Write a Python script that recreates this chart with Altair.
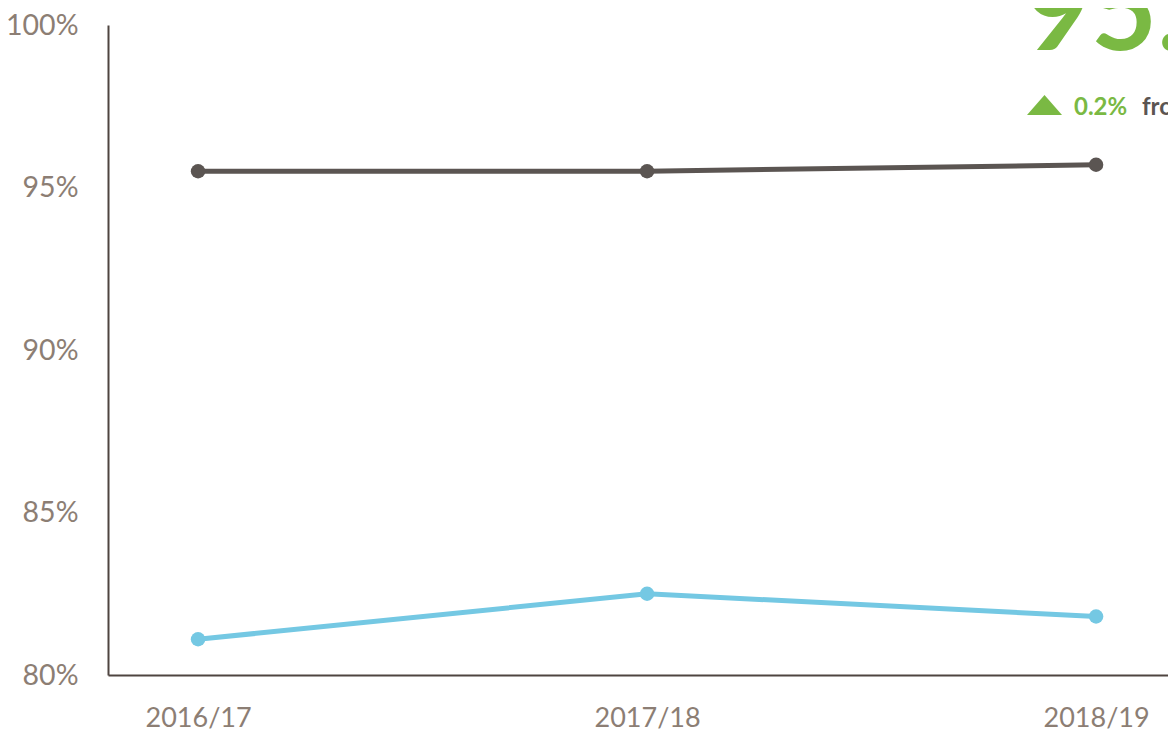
import altair as alt
import pandas as pd

years = ["2016/17", "2017/18", "2018/19"]
series_a = [95.5, 95.5, 95.7]
series_b = [81.1, 82.5, 81.8]
series_names = ["A", "B"]
series_colors = ["#5b5552", "#74c8e3"]
y_ticks = [80, 85, 90, 95, 100]

rows = []
for name, vals in zip(series_names, [series_a, series_b]):
    for yr, v in zip(years, vals):
        rows.append({"series": name, "year": yr, "value": v})
df = pd.DataFrame(rows)

FONT = "Lato"
LABEL_COLOR = "#8c7e74"

x_enc = alt.X("year:O", sort=years,
              scale=alt.Scale(type="point", padding=0.1804, align=0.556),
              axis=alt.Axis(title=None, labelAngle=0, ticks=False, grid=False,
                            domainColor="#4f4540", domainWidth=2,
                            labelFont=FONT, labelFontSize=27, labelColor=LABEL_COLOR,
                            labelPadding=30))
y_enc = alt.Y("value:Q",
              scale=alt.Scale(domain=[80, 100], nice=False, zero=False),
              axis=alt.Axis(title=None, values=y_ticks, ticks=False, grid=False,
                            domainColor="#4f4540", domainWidth=2,
                            labelExpr="datum.value + '%'",
                            labelFont=FONT, labelFontSize=28.5, labelColor=LABEL_COLOR,
                            labelPadding=30))
color_enc = alt.Color("series:N", scale=alt.Scale(domain=series_names, range=series_colors),
                      legend=None)

base = alt.Chart(df)
lines = base.mark_line(strokeWidth=5).encode(x=x_enc, y=y_enc, color=color_enc,
                                             detail="series:N")
points = base.mark_point(filled=True, size=210, opacity=1).encode(
    x=alt.X("year:O", sort=years), y="value:Q", color=color_enc)

ann_df = pd.DataFrame({"k": [0]})
big = alt.Chart(ann_df).mark_text(text="95.7%", font=FONT, fontWeight="bold", fontSize=114,
                                  color="#7ab943", align="left", baseline="alphabetic").encode(
    x=alt.value(917), y=alt.value(25))
tri = alt.Chart(ann_df).mark_point(shape="M-1,0.57L1,0.57L0,-0.57Z", size=1225, filled=True,
                                   opacity=1, color="#7ab943").encode(
    x=alt.value(936.5), y=alt.value(80))
pct = alt.Chart(ann_df).mark_text(text="0.2%", font=FONT, fontWeight="bold", fontSize=24,
                                  color="#7ab943", align="left", baseline="alphabetic").encode(
    x=alt.value(966), y=alt.value(90))
frm = alt.Chart(ann_df).mark_text(text="from 2017/18", font=FONT, fontWeight="bold", fontSize=24,
                                  color="#5b5552", align="left", baseline="alphabetic").encode(
    x=alt.value(1034), y=alt.value(90))

chart = alt.layer(lines, points, big, tri, pct, frm).properties(
    width=1060, height=650,
    background="white",
    autosize=alt.AutoSizeParams(type="none"),
    padding={"left": 100, "top": 17, "right": 0, "bottom": 57},
).configure_view(strokeWidth=0, stroke="transparent", clip=False
).configure_axis(grid=False)

chart.save("out.html", embed_options={"renderer": "svg", "actions": False})
